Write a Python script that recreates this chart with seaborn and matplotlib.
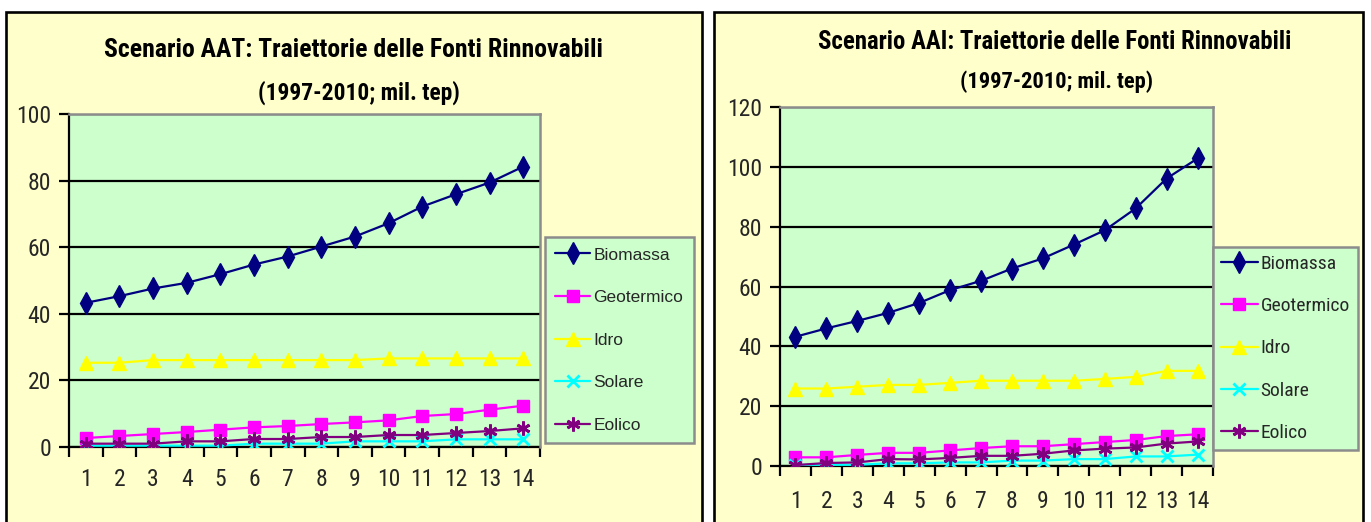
import numpy as np
import pandas as pd
import matplotlib
matplotlib.use("Agg")
import matplotlib.pyplot as plt
import seaborn as sns
from matplotlib import font_manager as fm
from matplotlib.font_manager import FontProperties
from matplotlib.patches import Rectangle
from matplotlib.ticker import FixedLocator, MultipleLocator

# ---- data (mil. tep), periods 1..14 = 1997..2010 ----
anni = list(range(1, 15))
serie = ["Biomassa", "Geotermico", "Idro", "Solare", "Eolico"]

aat_biomassa = [43.3, 45.3, 47.6, 49.3, 51.9, 54.8, 57.2, 60.2, 63.2, 67.2, 72.2, 75.9, 79.4, 84.2]
aat_geotermico = [2.7, 3.3, 3.9, 4.5, 5.2, 5.9, 6.3, 6.9, 7.4, 8.0, 9.3, 9.9, 11.2, 12.4]
aat_idro = [25.3, 25.3, 26.1, 26.1, 26.1, 26.1, 26.1, 26.1, 26.1, 26.6, 26.6, 26.6, 26.6, 26.6]
aat_solare = [0.4, 0.4, 0.4, 0.4, 0.4, 1.0, 1.0, 1.0, 1.7, 1.7, 1.7, 2.3, 2.3, 2.3]
aat_eolico = [1.0, 1.0, 1.0, 1.7, 1.7, 2.4, 2.4, 3.0, 3.0, 3.6, 3.6, 4.2, 4.8, 5.6]

aai_biomassa = [43.2, 46.0, 48.5, 51.2, 54.5, 58.8, 61.9, 66.0, 69.4, 74.0, 78.8, 86.1, 96.1, 102.8]
aai_geotermico = [2.9, 2.9, 3.7, 4.4, 4.4, 5.2, 6.0, 6.6, 6.6, 7.3, 8.0, 8.7, 10.0, 10.6]
aai_idro = [25.9, 25.9, 26.5, 27.1, 27.1, 27.8, 28.5, 28.5, 28.5, 28.5, 29.1, 29.8, 31.8, 31.8]
aai_solare = [0.4, 0.4, 0.4, 0.9, 0.9, 1.2, 1.2, 1.8, 1.8, 2.3, 2.3, 3.2, 3.2, 3.8]
aai_eolico = [0.3, 1.0, 1.2, 2.3, 2.2, 2.7, 3.4, 3.4, 4.1, 5.2, 5.8, 6.2, 7.5, 8.2]

titoli_aat = ["Scenario AAT: Traiettorie delle Fonti Rinnovabili", "(1997-2010; mil. tep)"]
titoli_aai = ["Scenario AAI: Traiettorie delle Fonti Rinnovabili", "(1997-2010; mil. tep)"]

# ---- fonts: prefer a narrow sans if one is installed ----
sns.set_style("ticks")
voci = fm.fontManager.ttflist
nomi = {f.name for f in voci}
normale = "Liberation Sans" if "Liberation Sans" in nomi else "DejaVu Sans"

stretto, allungo = normale, "normal"
for n in ["Liberation Sans Narrow", "Arial Narrow", "Roboto Condensed", "DejaVu Sans Condensed",
          "Open Sans Condensed", "Noto Sans Condensed"]:
    if n in nomi:
        stretto, allungo = n, "normal"
        break
else:
    for fam in ["Liberation Sans", "Roboto", "Noto Sans", "Open Sans", "DejaVu Sans", "Lato", "Inter"]:
        cond = [f for f in voci if f.name == fam and f.stretch in ("condensed", "semi-condensed",
                                                                   "extra-condensed")]
        if cond:
            stretto = fam
            allungo = "condensed" if any(f.stretch == "condensed" for f in cond) else cond[0].stretch
            break
plt.rcParams["font.family"] = [normale, "DejaVu Sans"]


def fp(size, weight="normal", narrow=True):
    if narrow:
        return FontProperties(family=[stretto, "DejaVu Sans"], stretch=allungo, size=size,
                              weight=weight)
    return FontProperties(family=[normale, "DejaVu Sans"], size=size, weight=weight)


stili = {
    "Biomassa": dict(color="#000080", marker="d", ms=11, mew=1.0),
    "Geotermico": dict(color="#FF00FF", marker="s", ms=8.5, mew=1.0),
    "Idro": dict(color="#FFFF00", marker="^", ms=10, mew=1.0),
    "Solare": dict(color="#00FFFF", marker="x", ms=8, mew=2.0),
    "Eolico": dict(color="#800080", marker=(6, 2, 0), ms=10, mew=2.0),
}

W, H = 1371, 522
fig = plt.figure(figsize=(W / 100, H / 100), dpi=100, facecolor="white")

GIALLO = "#FFFFCC"
VERDE = "#CCFFCC"


def fx(px):
    return px / W


def fy(py):
    return 1 - py / H


# chart frames
for x0, x1 in [(6, 702), (714, 1363)]:
    fig.add_artist(Rectangle((fx(x0), -0.05), fx(x1) - fx(x0), fy(12) + 0.05,
                             transform=fig.transFigure, facecolor=GIALLO,
                             edgecolor="black", lw=1.9, zorder=0))


def pannello(box, valori, ymax, tick_pad_x, leg_box, leg_prop, leg_kw):
    l, t, r, b = box
    ax = fig.add_axes([fx(l), fy(b), fx(r) - fx(l), fy(t) - fy(b)])
    ax.set_facecolor(VERDE)
    for nome, vals in zip(serie, valori):
        st = stili[nome]
        df = pd.DataFrame({"anno": anni, "valore": vals})
        sns.lineplot(data=df, x="anno", y="valore", ax=ax, color=st["color"],
                     marker=st["marker"], ms=st["ms"], mec=st["color"], mfc=st["color"],
                     mew=st["mew"], lw=1.6, label=nome, legend=False, zorder=3)
    ax.set_xlim(0.5, 14.5)
    ax.set_ylim(0, ymax)
    ax.set_xlabel("")
    ax.set_ylabel("")
    ax.xaxis.set_major_locator(FixedLocator(anni))
    ax.xaxis.set_minor_locator(FixedLocator(np.arange(0.5, 15, 1)))
    ax.yaxis.set_major_locator(MultipleLocator(20))
    ax.tick_params(axis="x", which="major", length=0, pad=tick_pad_x)
    ax.tick_params(axis="x", which="minor", length=7, width=1.6, direction="out", color="black")
    ax.tick_params(axis="y", which="major", length=7, width=1.6, direction="out",
                   color="black", pad=6)
    for lab in ax.get_xticklabels() + ax.get_yticklabels():
        lab.set_fontproperties(fp(17))
    ax.set_axisbelow(True)
    ax.grid(axis="y", color="black", lw=1.6)
    for s in ["left", "bottom"]:
        ax.spines[s].set_color("black")
        ax.spines[s].set_linewidth(1.6)
    for s in ["top", "right"]:
        ax.spines[s].set_color("#8C8C8C")
        ax.spines[s].set_linewidth(1.8)
        ax.spines[s].set_zorder(2.6)
    handles = ax.get_lines()[:len(serie)]
    lx0, ly0 = leg_box
    leg = ax.legend(handles, serie, loc="upper left", bbox_to_anchor=(fx(lx0), fy(ly0)),
                    bbox_transform=fig.transFigure, borderaxespad=0, frameon=True,
                    fancybox=False, framealpha=1, facecolor=VERDE, edgecolor="#8C8C8C",
                    prop=leg_prop, **leg_kw)
    leg.get_frame().set_linewidth(1.8)
    return ax


pannello((69, 114, 540, 447),
         [aat_biomassa, aat_geotermico, aat_idro, aat_solare, aat_eolico],
         100, 15, (545, 237), fp(12.5, narrow=False),
         dict(handlelength=2.0, handletextpad=0.2, borderpad=0.6, labelspacing=1.58))
pannello((780, 107, 1213, 466),
         [aai_biomassa, aai_geotermico, aai_idro, aai_solare, aai_eolico],
         120, 17, (1213, 247), fp(14) if stretto != normale else fp(12),
         dict(handlelength=1.9, handletextpad=0.15, borderpad=0.4, labelspacing=1.25))


def titolo(testo, cx, cy, larghezza):
    t = fig.text(fx(cx), fy(cy), testo, ha="center", va="center", color="black",
                 fontproperties=fp(18, weight="bold"))
    fig.canvas.draw()
    w = t.get_window_extent(fig.canvas.get_renderer()).width
    t.set_fontsize(18 * larghezza / w)
    return t


titolo(titoli_aat[0], 354, 50, 500)
titolo(titoli_aat[1], 359, 93, 202)
titolo(titoli_aai[0], 1055, 42, 472)
titolo(titoli_aai[1], 1056, 82, 193)

fig.savefig("out.png", dpi=100, facecolor="white")
